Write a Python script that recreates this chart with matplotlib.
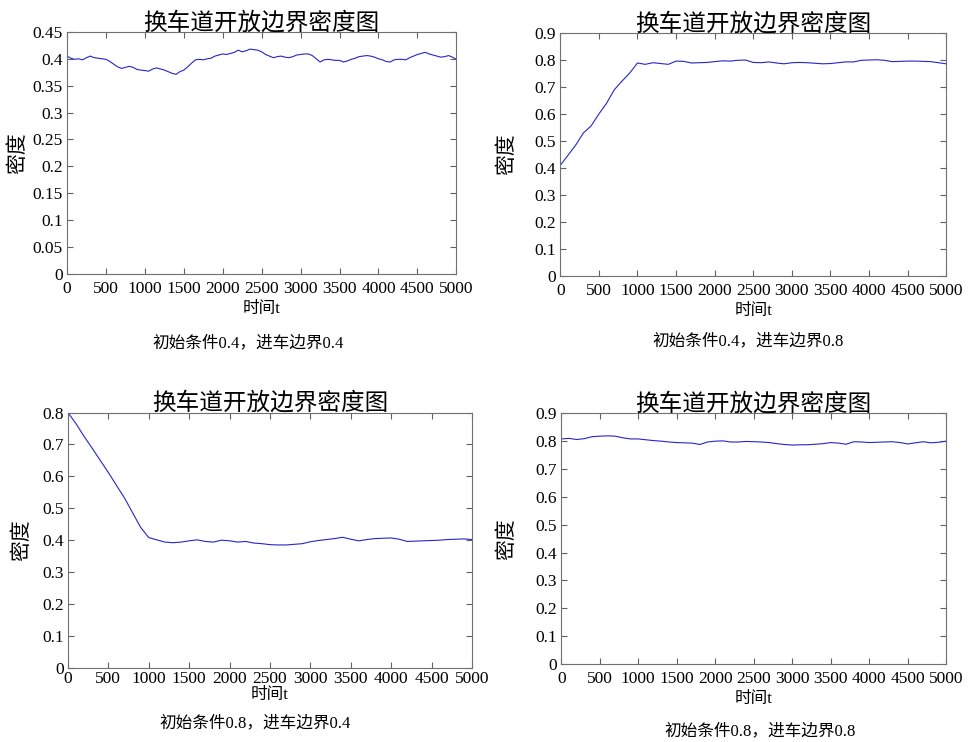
import numpy as np
import matplotlib
matplotlib.use('Agg')
import matplotlib.pyplot as plt
from matplotlib.ticker import FuncFormatter

plt.rcParams['font.family'] = ['Liberation Serif', 'Noto Sans CJK SC']
plt.rcParams['axes.unicode_minus'] = False

title_txt = '换车道开放边界密度图'
xlab = '时间t'
ylab = '密度'
captions = ['初始条件0.4，进车边界0.4', '初始条件0.4，进车边界0.8',
            '初始条件0.8，进车边界0.4', '初始条件0.8，进车边界0.8']

# time axis of each series
t_a = list(range(0, 5001, 50))
t_b = list(range(0, 5001, 100))

# density readings
rho_44 = [0.405, 0.401, 0.399, 0.400, 0.398, 0.402, 0.405, 0.402, 0.401, 0.400,
          0.399, 0.395, 0.390, 0.385, 0.382, 0.384, 0.386, 0.384, 0.380, 0.379,
          0.378, 0.377, 0.381, 0.383, 0.381, 0.379, 0.376, 0.373, 0.371, 0.376,
          0.379, 0.385, 0.392, 0.398, 0.399, 0.398, 0.400, 0.401, 0.405, 0.407,
          0.409, 0.408, 0.410, 0.412, 0.416, 0.413, 0.415, 0.418, 0.417, 0.416,
          0.413, 0.408, 0.405, 0.402, 0.404, 0.405, 0.403, 0.402, 0.404, 0.407,
          0.408, 0.409, 0.409, 0.406, 0.400, 0.394, 0.398, 0.399, 0.398, 0.397,
          0.397, 0.394, 0.396, 0.399, 0.401, 0.404, 0.405, 0.406, 0.405, 0.403,
          0.400, 0.398, 0.395, 0.394, 0.398, 0.399, 0.399, 0.398, 0.402, 0.405,
          0.408, 0.410, 0.412, 0.409, 0.407, 0.405, 0.403, 0.404, 0.406, 0.403,
          0.399]
rho_48 = [0.410, 0.447, 0.485, 0.530, 0.556, 0.600, 0.640, 0.690, 0.722, 0.752,
          0.789, 0.784, 0.790, 0.787, 0.784, 0.796, 0.795, 0.789, 0.790, 0.791,
          0.794, 0.797, 0.796, 0.799, 0.800, 0.791, 0.790, 0.793, 0.789, 0.786,
          0.790, 0.791, 0.790, 0.788, 0.786, 0.787, 0.790, 0.793, 0.793, 0.799,
          0.800, 0.801, 0.799, 0.794, 0.795, 0.796, 0.796, 0.795, 0.794, 0.790,
          0.786]
rho_84 = [0.800, 0.765, 0.725, 0.688, 0.650, 0.612, 0.572, 0.532, 0.486, 0.440,
          0.408, 0.401, 0.394, 0.392, 0.394, 0.398, 0.401, 0.396, 0.394, 0.400,
          0.398, 0.394, 0.396, 0.391, 0.389, 0.386, 0.385, 0.385, 0.387, 0.389,
          0.395, 0.399, 0.402, 0.405, 0.409, 0.403, 0.398, 0.402, 0.405, 0.406,
          0.407, 0.403, 0.396, 0.397, 0.398, 0.399, 0.400, 0.402, 0.403, 0.404,
          0.402]
rho_88 = [0.808, 0.810, 0.806, 0.809, 0.816, 0.818, 0.819, 0.818, 0.812, 0.808,
          0.808, 0.805, 0.802, 0.800, 0.797, 0.795, 0.794, 0.793, 0.788, 0.797,
          0.800, 0.801, 0.797, 0.797, 0.799, 0.798, 0.797, 0.795, 0.791, 0.788,
          0.786, 0.787, 0.787, 0.789, 0.791, 0.795, 0.793, 0.789, 0.798, 0.797,
          0.795, 0.796, 0.797, 0.798, 0.795, 0.790, 0.794, 0.798, 0.794, 0.796,
          0.800]

ymax = [0.45, 0.9, 0.8, 0.9]
ystep = [0.05, 0.1, 0.1, 0.1]
series = [(t_a, rho_44), (t_b, rho_48), (t_b, rho_84), (t_b, rho_88)]
rects = [[0.069, 0.631, 0.401, 0.326],
         [0.577, 0.628, 0.3975, 0.3275],
         [0.070, 0.100, 0.416, 0.344],
         [0.578, 0.105, 0.3965, 0.338]]
ylab_x = [-0.10, -0.111, -0.089, -0.114]
xpad = [5, 5, 2, 5]
xlabpad = [3, 3, 0, 3]
cap_pos = [(248, 343), (748, 341), (255, 723), (760, 731)]

fig = plt.figure(figsize=(9.71, 7.42), dpi=100)
for i in range(4):
    ax = fig.add_axes(rects[i])
    x, y = series[i]
    ax.plot(x, y, color='#2626c8', linewidth=0.8)
    ax.set_xlim(0, 5000)
    ax.set_ylim(0, ymax[i])
    ax.set_xticks(np.arange(0, 5001, 500))
    ax.set_yticks(np.arange(0, ymax[i] + 1e-9, ystep[i]))
    ax.yaxis.set_major_formatter(FuncFormatter(lambda v, p: '%g' % round(v, 2)))
    ax.tick_params(direction='in', top=True, right=True, labelsize=12.5,
                   color='#606060', length=4)
    ax.tick_params(axis='x', pad=xpad[i])
    ax.tick_params(axis='y', pad=3)
    for s in ax.spines.values():
        s.set_color('#707070')
    ax.set_title(title_txt, fontsize=17, pad=2)
    ax.set_xlabel(xlab, fontsize=12, labelpad=xlabpad[i])
    ax.set_ylabel(ylab, fontsize=15)
    ax.yaxis.set_label_coords(ylab_x[i], 0.5)
    fig.text(cap_pos[i][0] / 971, 1 - cap_pos[i][1] / 742, captions[i],
             ha='center', va='center', fontsize=12)

plt.savefig('out.png')
